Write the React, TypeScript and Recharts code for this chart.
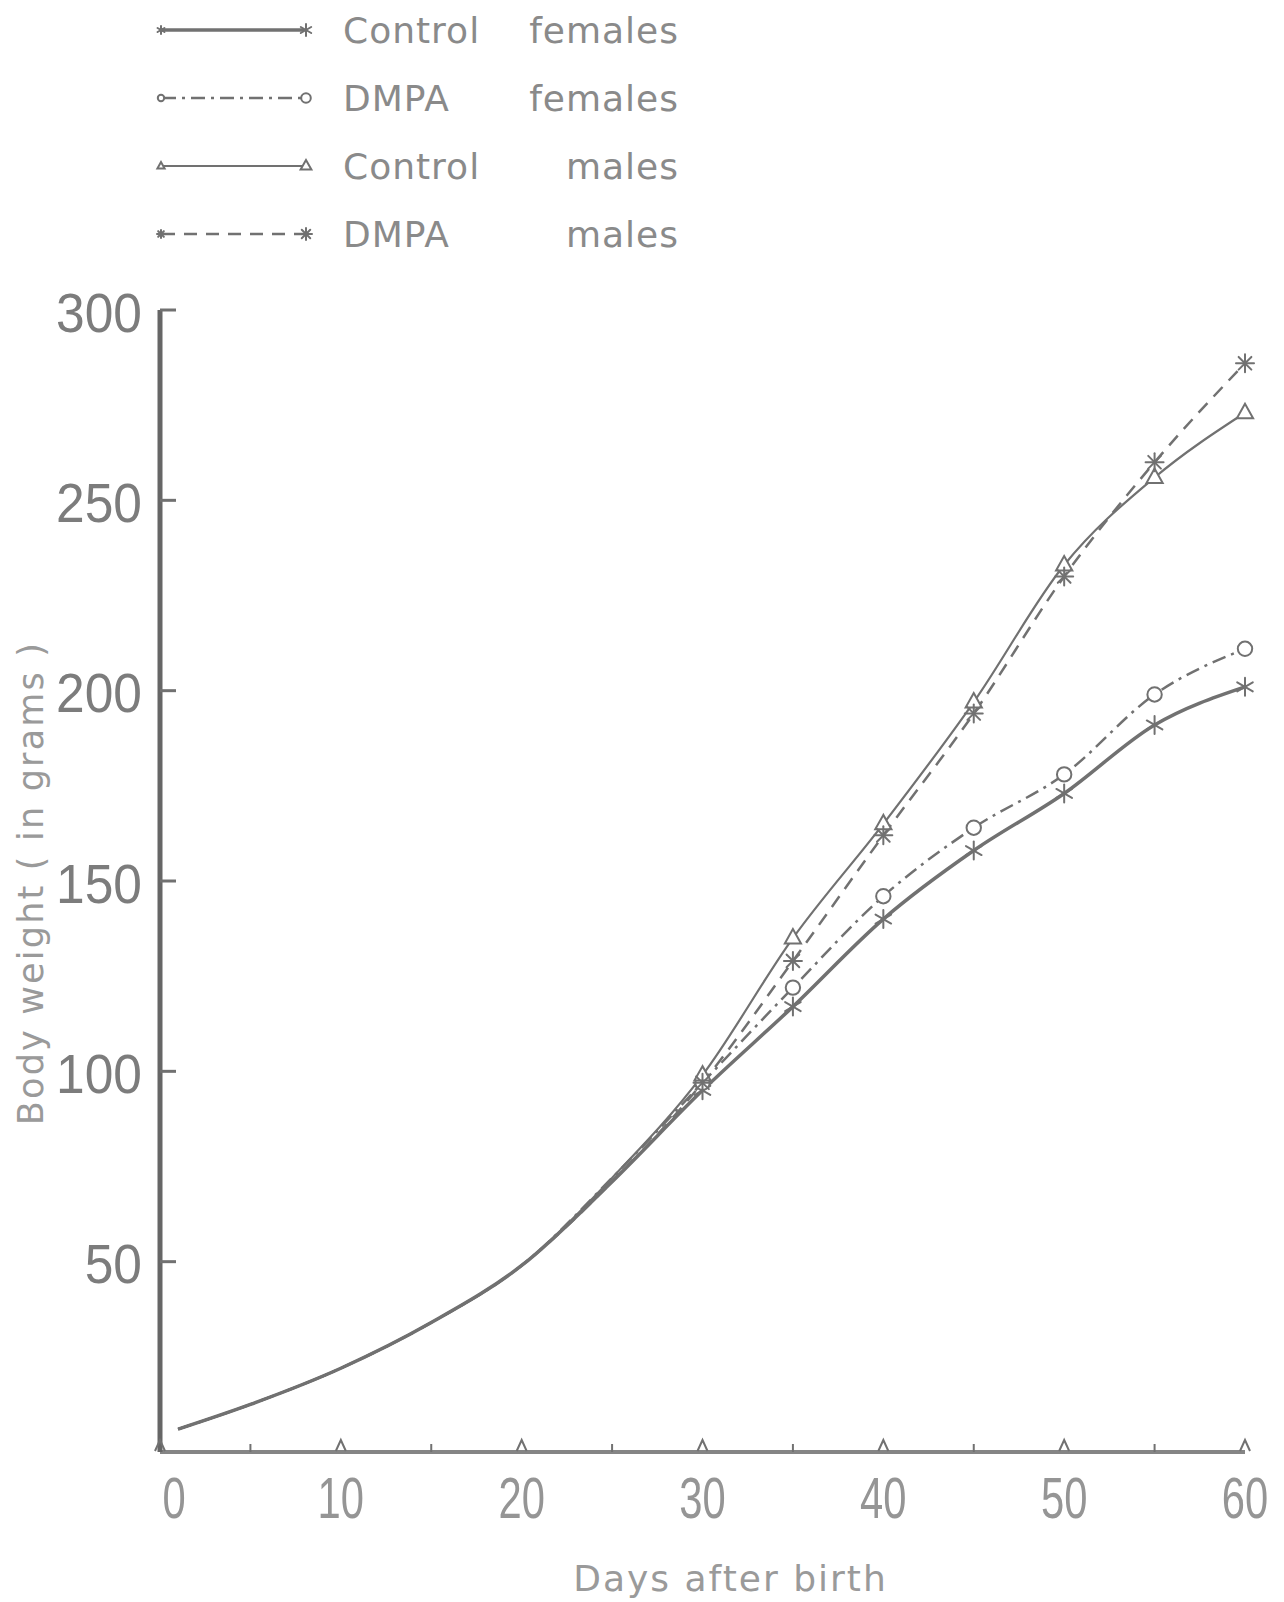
import React from 'react';
import { LineChart, Line, XAxis, YAxis, Legend } from 'recharts';

// ---- data ----
const days = [1, 5, 10, 15, 20, 25, 30, 35, 40, 45, 50, 55, 60];
const controlFemales = [6, 12.5, 22, 34, 49, 71, 95, 117, 140, 158, 173, 191, 201];
const dmpaFemales = [6, 12.5, 22, 34, 49, 72, 97, 122, 146, 164, 178, 199, 211];
const controlMales = [6, 12.5, 22, 34, 49, 72, 99, 135, 165, 197, 233, 256, 273];
const dmpaMales = [6, 12.5, 22, 34, 49, 71, 97, 129, 162, 194, 230, 260, 286];
const markedFromDay = 30;

const xTicks = [0, 5, 10, 15, 20, 25, 30, 35, 40, 45, 50, 55, 60];
const yTicks = [50, 100, 150, 200, 250, 300];

const legendGroups = ['Control', 'DMPA', 'Control', 'DMPA'];
const legendSexes = ['females', 'females', 'males', 'males'];

const xTitle = 'Days after birth';
const yTitle = 'Body weight ( in grams )';

// ---- styling ----
const INK = '#717171';
const TEXT = '#8a8a8a';
const FONT = '"DejaVu Sans", "Liberation Sans", sans-serif';

type Kind = 'star' | 'circle' | 'triangle' | 'cross';

const series: { key: string; values: number[]; dash?: string; width: number; marker: Kind }[] = [
  { key: 'controlFemales', values: controlFemales, width: 3.5, marker: 'star' },
  { key: 'dmpaFemales', values: dmpaFemales, dash: '14 6 3 6', width: 2.5, marker: 'circle' },
  { key: 'controlMales', values: controlMales, width: 2.2, marker: 'triangle' },
  { key: 'dmpaMales', values: dmpaMales, dash: '13 9', width: 2.5, marker: 'cross' },
];

const data = days.map((d, i) => {
  const row: Record<string, number> = { day: d };
  series.forEach((s) => {
    row[s.key] = s.values[i];
  });
  return row;
});

function Marker({ kind, cx, cy, r }: { kind: Kind; cx: number; cy: number; r: number }) {
  const sw = 2;
  if (kind === 'circle') {
    return <circle cx={cx} cy={cy} r={r * 0.8} fill="#fff" stroke={INK} strokeWidth={sw} />;
  }
  if (kind === 'triangle') {
    const h = r;
    return (
      <path
        d={`M${cx},${cy - h} L${cx - h * 0.9},${cy + h * 0.6} L${cx + h * 0.9},${cy + h * 0.6} Z`}
        fill="#fff"
        stroke={INK}
        strokeWidth={sw}
      />
    );
  }
  const angles = kind === 'star' ? [90, 30, 150] : [90, 0, 45, 135];
  return (
    <g stroke={INK} strokeWidth={sw} strokeLinecap="round">
      {angles.map((a) => {
        const rad = (a * Math.PI) / 180;
        const dx = Math.cos(rad) * r;
        const dy = Math.sin(rad) * r;
        return <line key={a} x1={cx - dx} y1={cy - dy} x2={cx + dx} y2={cy + dy} />;
      })}
    </g>
  );
}

const makeDot = (kind: Kind, key: string) => (props: any) => {
  const { cx, cy, payload, index } = props;
  if (cx == null || cy == null || !payload || payload.day < markedFromDay) {
    return <g key={`${key}-${index}`} />;
  }
  return (
    <g key={`${key}-${index}`}>
      <Marker kind={kind} cx={cx} cy={cy} r={9} />
    </g>
  );
};

const XTick = (props: any) => {
  const { x, y, payload } = props;
  const v = payload.value as number;
  const major = v % 10 === 0;
  return (
    <g>
      {major ? (
        <path d={`M${x - 5},${y - 1} L${x},${y - 12} L${x + 5},${y - 1}`} fill="none" stroke={INK} strokeWidth={2} />
      ) : (
        <line x1={x} x2={x} y1={y} y2={y - 8} stroke={INK} strokeWidth={2} />
      )}
      {major && (
        <text
          transform={`translate(${x + (v === 0 ? 14 : 0)},${y + 66}) scale(0.72,1)`}
          textAnchor="middle"
          fontSize={58}
          fontFamily='"Liberation Sans", Arial, sans-serif'
          fill="#959595"
        >
          {v}
        </text>
      )}
    </g>
  );
};

const YTick = (props: any) => {
  const { x, y, payload } = props;
  return (
    <g>
      <line x1={x} x2={x + 16} y1={y} y2={y} stroke={INK} strokeWidth={3} />
      <text
        transform={`translate(${x - 18},${y + 2}) scale(0.92,1)`}
        textAnchor="end"
        dominantBaseline="central"
        fontSize={56}
        fontFamily='"Liberation Sans", Arial, sans-serif'
        fill="#7c7c7c"
      >
        {payload.value}
      </text>
    </g>
  );
};

const XTitle = (p: any) => {
  const vb = p.viewBox || { x: 152, y: 1444, width: 1085, height: 100 };
  const cx = vb.x + vb.width / 2 + 28;
  const cy = vb.y + 126;
  return (
    <text x={cx} y={cy} textAnchor="middle" dominantBaseline="central" fontSize={36} letterSpacing={2} fontFamily={FONT} fill="#9a9a9a">
      {xTitle}
    </text>
  );
};

const YTitle = (p: any) => {
  const vb = p.viewBox || { x: 52, y: 302, width: 100, height: 1142 };
  const cx = vb.x - 29;
  const cy = vb.y + vb.height / 2 + 2;
  return (
    <text
      x={cx}
      y={cy}
      transform={`rotate(-90 ${cx} ${cy})`}
      textAnchor="middle"
      dominantBaseline="central"
      fontSize={35}
      letterSpacing={2.2}
      fontFamily={FONT}
      fill="#9a9a9a"
    >
      {yTitle}
    </text>
  );
};

const legendRowTop = 22;
const legendRowStep = 68;

const renderLegend = () => (
  <svg width={700} height={260} style={{ display: 'block', overflow: 'visible' }}>
    {series.map((s, i) => {
      const cy = legendRowTop + i * legendRowStep;
      return (
        <g key={s.key}>
          <line x1={154} x2={296} y1={cy} y2={cy} stroke={INK} strokeWidth={s.width} strokeDasharray={s.dash} />
          <Marker kind={s.marker} cx={153} cy={cy} r={4} />
          <Marker kind={s.marker} cx={298} cy={cy} r={6} />
          <text x={335} y={cy} dominantBaseline="central" fontSize={36} letterSpacing={1} fontFamily={FONT} fill={TEXT}>
            {legendGroups[i]}
          </text>
          <text x={671} y={cy} textAnchor="end" dominantBaseline="central" fontSize={36} letterSpacing={1} fontFamily={FONT} fill={TEXT}>
            {legendSexes[i]}
          </text>
        </g>
      );
    })}
  </svg>
);

export default function App() {
  return (
    <div style={{ width: 1276, height: 1594, background: '#fff' }}>
      <LineChart
        width={1276}
        height={1594}
        data={data}
        margin={{ top: 302, right: 39, bottom: 50, left: 52 }}
      >
        <Legend
          layout="horizontal"
          verticalAlign="middle"
          align="center"
          content={renderLegend}
          wrapperStyle={{ left: 0, top: 0, width: 700, height: 260 }}
        />
        <XAxis
          dataKey="day"
          type="number"
          domain={[0, 60]}
          ticks={xTicks}
          interval={0}
          height={100}
          tickSize={0}
          tickMargin={0}
          tickLine={false}
          axisLine={{ stroke: '#858585', strokeWidth: 4 }}
          tick={<XTick />}
          label={{ content: XTitle }}
        />
        <YAxis
          type="number"
          domain={[0, 300]}
          ticks={yTicks}
          interval={0}
          width={100}
          tickSize={0}
          tickMargin={0}
          tickLine={false}
          axisLine={{ stroke: '#666666', strokeWidth: 5 }}
          tick={<YTick />}
          label={{ content: YTitle }}
        />
        {series.map((s) => (
          <Line
            key={s.key}
            type="monotone"
            dataKey={s.key}
            stroke={INK}
            strokeWidth={s.width}
            strokeDasharray={s.dash}
            dot={makeDot(s.marker, s.key)}
            activeDot={false}
            isAnimationActive={false}
            legendType="none"
          />
        ))}
      </LineChart>
    </div>
  );
}
